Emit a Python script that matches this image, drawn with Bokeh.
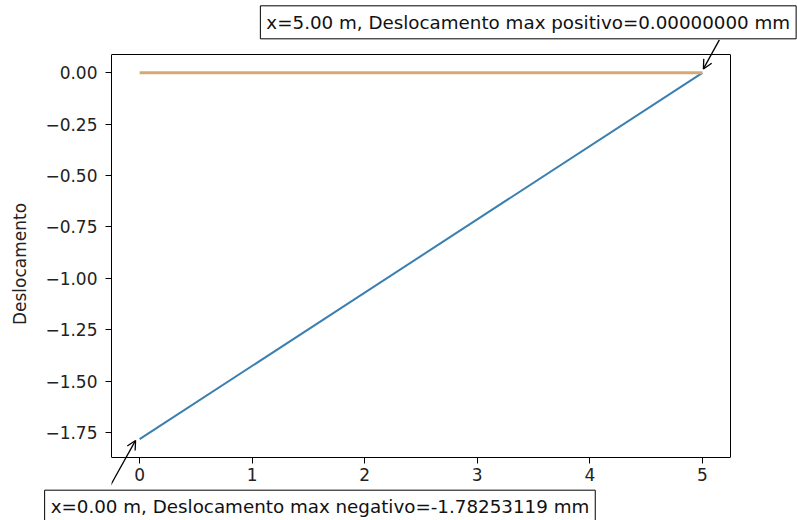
from bokeh.plotting import figure
from bokeh.models import (Label, Arrow, OpenHead, FixedTicker, CustomJSTickFormatter,
                          Range1d, LinearAxis)
from bokeh.embed import file_html
from bokeh.resources import INLINE

# Data
x_pos = [0.0, 5.0]
desloc = [-1.78253119, 0.0]
zero_line = [0.0, 0.0]
x_ticks = [0, 1, 2, 3, 4, 5]
y_ticks = [0.0, -0.25, -0.5, -0.75, -1.0, -1.25, -1.5, -1.75]
max_pos_x, max_pos_val = 5.0, 0.0
max_neg_x, max_neg_val = 0.0, -1.78253119
label_pos = "x=%.2f m, Deslocamento max positivo=%.8f mm" % (max_pos_x, max_pos_val)
label_neg = "x=%.2f m, Deslocamento max negativo=%.8f mm" % (max_neg_x, max_neg_val)

FONT = "DejaVu Sans"

# visible axes box (matplotlib-like 5% margins)
x_lo, x_hi = -0.25, 5.25
ymin, ymax = min(desloc), max(zero_line + desloc)
span = ymax - ymin
vis_lo, vis_hi = ymin - 0.05 * span, ymax + 0.05 * span
vis_span = vis_hi - vis_lo

# the drawing frame is taller than the visible box so arrows are not clipped
BOX_H, EXTRA_TOP, EXTRA_BOT = 403, 15, 31
y_start = vis_lo - EXTRA_BOT / BOX_H * vis_span
y_end = vis_hi + EXTRA_TOP / BOX_H * vis_span

p = figure(frame_width=619, frame_height=BOX_H + EXTRA_TOP + EXTRA_BOT,
           output_backend="svg", toolbar_location=None,
           x_range=Range1d(x_lo, x_hi), y_range=Range1d(y_start, y_end))
p.min_border = 0
p.min_border_left = 111
p.min_border_right = 67
p.min_border_top = 39
p.min_border_bottom = 30
p.outline_line_color = None
p.xgrid.visible = False
p.ygrid.visible = False

p.line(x_pos, desloc, line_color="#3a7fb0", line_width=2)
p.line(x_pos, zero_line, line_color="#d8a874", line_width=3)

for ax in (p.xaxis[0], p.yaxis[0]):
    ax.axis_line_color = "black"
    ax.axis_line_width = 1
    ax.major_tick_line_color = "black"
    ax.major_tick_out = 6
    ax.major_tick_in = 0
    ax.minor_tick_line_color = None
    ax.major_label_text_font = FONT
    ax.major_label_text_font_size = "17px"
    ax.major_label_text_color = "#222222"

p.xaxis.ticker = FixedTicker(ticks=x_ticks)
p.yaxis.ticker = FixedTicker(ticks=y_ticks)
p.yaxis.formatter = CustomJSTickFormatter(
    code="return (tick < -1e-9 ? '\u2212' : '') + Math.abs(tick).toFixed(2);")
p.xaxis.formatter = CustomJSTickFormatter(code="return tick.toFixed(0);")
p.xaxis.fixed_location = vis_lo
p.xaxis.major_label_standoff = 4
p.yaxis.bounds = (vis_lo, vis_hi)
p.yaxis.major_label_standoff = 8
p.yaxis.axis_label = "Deslocamento"
p.yaxis.axis_label_text_font = FONT
p.yaxis.axis_label_text_font_size = "17px"
p.yaxis.axis_label_text_font_style = "normal"
p.yaxis.axis_label_text_color = "#222222"
p.yaxis.axis_label_standoff = 12

# right edge of the box
right_ax = LinearAxis(bounds=(vis_lo, vis_hi), ticker=FixedTicker(ticks=[]),
                      major_label_text_font_size="0px", major_tick_out=0,
                      minor_tick_out=0, axis_line_color="black")
p.add_layout(right_ax, "right")
# top edge of the box
p.segment(x0=[x_lo], y0=[vis_hi], x1=[x_hi], y1=[vis_hi], line_color="black", line_width=1)

# Annotations (labels in side panels so they are not clipped)
top = Label(x=max_pos_x, y=max_pos_val, text=label_pos, x_offset=-442, y_offset=34,
            anchor="bottom_left", text_font=FONT, text_font_size="18.3px",
            text_color="#111111", padding=6,
            border_line_color="black", border_line_width=1,
            background_fill_color="white")
bot = Label(x=max_neg_x, y=max_neg_val, text=label_neg, x_offset=-95, y_offset=-51,
            anchor="top_left", text_font=FONT, text_font_size="18.3px",
            text_color="#111111", padding=6,
            border_line_color="black", border_line_width=1,
            background_fill_color="white")
p.add_layout(top, "above")
p.add_layout(bot, "below")

p.add_layout(Arrow(end=OpenHead(size=9, line_width=1.3), line_width=1.3,
                   x_start=max_pos_x + 0.151, y_start=max_pos_val + 0.160,
                   x_end=max_pos_x + 0.009, y_end=max_pos_val + 0.019))
p.add_layout(Arrow(end=OpenHead(size=9, line_width=1.3), line_width=1.3,
                   x_start=max_neg_x - 0.258, y_start=max_neg_val - 0.224,
                   x_end=max_neg_x - 0.036, y_end=max_neg_val - 0.006))

open("out.html", "w").write(file_html(p, INLINE))
